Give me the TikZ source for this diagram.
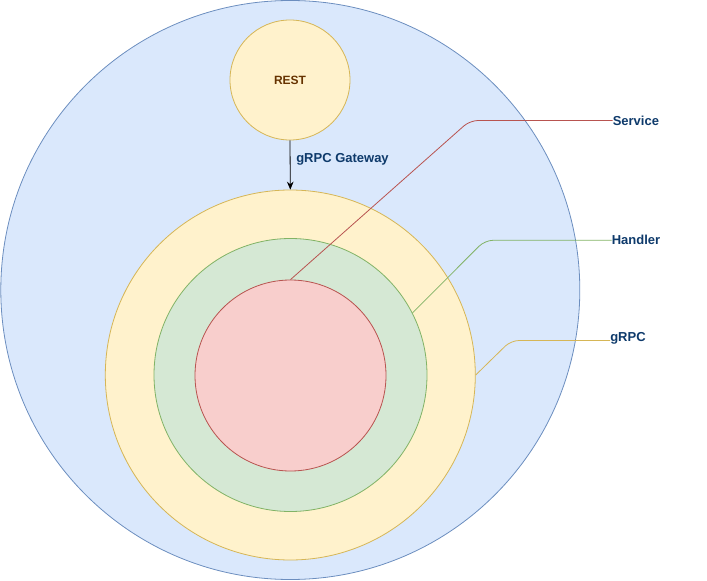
\documentclass[tikz,border=0pt]{standalone}
\usepackage{fontspec}
\setmainfont{Liberation Sans}
\usetikzlibrary{arrows.meta}
\definecolor{bluefill}{HTML}{DAE8FC}
\definecolor{bluedraw}{HTML}{6C8EBF}
\definecolor{yelfill}{HTML}{FFF2CC}
\definecolor{yeldraw}{HTML}{D6B656}
\definecolor{grnfill}{HTML}{D5E8D4}
\definecolor{grndraw}{HTML}{82B366}
\definecolor{redfill}{HTML}{F8CECC}
\definecolor{reddraw}{HTML}{B85450}
\definecolor{lbl}{HTML}{0E3A6B}
\definecolor{brown}{HTML}{663300}
\tikzset{
  ring/.style={circle, inner sep=0pt, line width=0.6pt},
  lbltext/.style={inner sep=0pt, font=\fontsize{9.75pt}{11pt}\selectfont\bfseries, text=lbl, anchor=west},
  leader/.style={line width=0.6pt, rounded corners=6pt},
}
\begin{document}
\begin{tikzpicture}[x=0.75pt,y=-0.75pt]
\useasboundingbox (0,0) rectangle (707,581);
\node[ring, draw=bluedraw, fill=bluefill, minimum size=579pt*0.75] (outer) at (290.3,290) {};
\node[ring, draw=yeldraw, fill=yelfill, minimum size=370pt*0.75] (grpc) at (290.3,375) {};
\node[ring, draw=grndraw, fill=grnfill, minimum size=273pt*0.75] (handler) at (290.5,375) {};
\node[ring, draw=reddraw, fill=redfill, minimum size=191pt*0.75] (service) at (290.5,375.5) {};
\node[ring, draw=yeldraw, fill=yelfill, minimum size=120pt*0.75, font=\fontsize{9pt}{11pt}\selectfont\bfseries, text=brown] (rest) at (290,80) {REST};
\draw[-{Stealth[length=6pt,width=5pt,inset=2pt]}, line width=0.6pt, black] (rest.south) -- (grpc.north);
\node[lbltext] (gw) at (296,159.5) {gRPC Gateway};
\node[lbltext] (lsvc) at (612.5,120.5) {Service};
\node[lbltext] (lhdl) at (611.5,240) {Handler};
\node[lbltext] (lgrpc) at (610,338) {gRPC};
\coordinate (csvc) at (470,120.5);
\coordinate (chdl) at (485,240.3);
\coordinate (cgrpc) at (511,340.5);
\draw[leader, reddraw] (service.north) -- (csvc) -- (lsvc.west |- csvc);
\draw[leader, grndraw] (handler.27) -- (chdl) -- (lhdl.west |- chdl);
\draw[leader, yeldraw] (grpc.east) -- (cgrpc) -- (lgrpc.west |- cgrpc);
\end{tikzpicture}
\end{document}
